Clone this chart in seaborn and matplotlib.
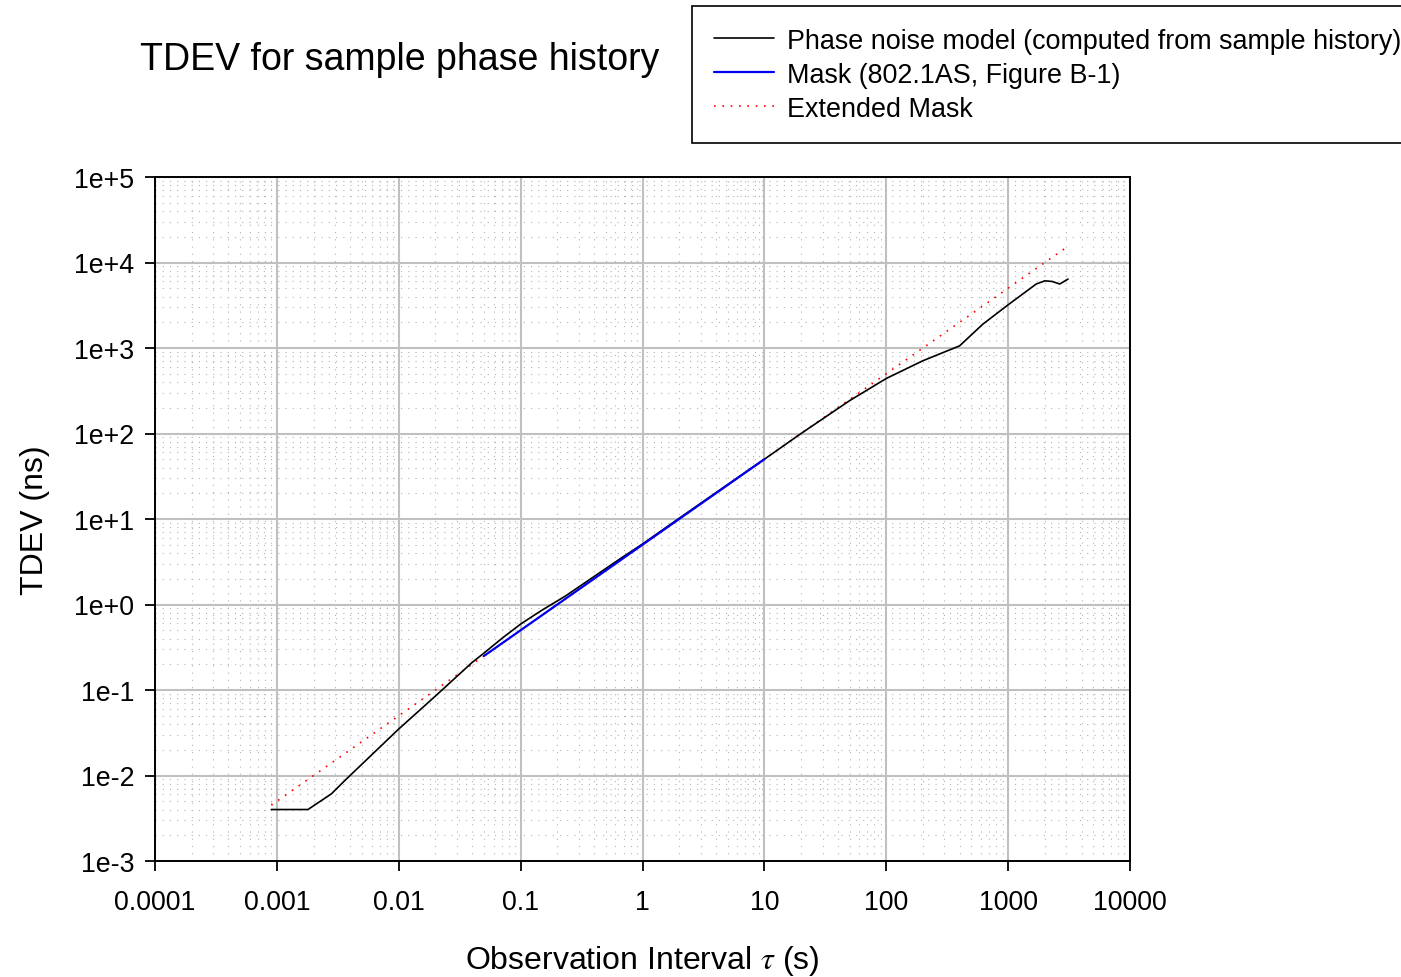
import numpy as np
import pandas as pd
import seaborn as sns
import matplotlib.pyplot as plt
from matplotlib.ticker import LogLocator, NullFormatter

# phase noise model (computed from sample history)
model_tau = [0.0009, 0.0018, 0.0028, 0.0036, 0.01, 0.02, 0.04, 0.05, 0.07, 0.1,
             0.12, 0.15, 0.234, 0.65, 1, 2, 5, 10, 20, 50, 100, 200, 400, 620, 1000,
             1700, 2000, 2300, 2650, 3100]
model_tdev = [0.004, 0.004, 0.0061, 0.0087, 0.035, 0.085, 0.21, 0.27, 0.40, 0.59,
              0.70, 0.86, 1.26, 3.4, 5.1, 10.2, 25.3, 50, 100, 242, 440, 710, 1060, 1900, 3200,
              5600, 6100, 6000, 5600, 6400]

# mask (802.1AS, Figure B-1)
mask_tau = [0.05, 10]
mask_tdev = [0.25, 50]

# extended mask
ext_tau = [0.0009, 3000]
ext_tdev = [0.0045, 15000]

labels = ["Phase noise model (computed from sample history)",
          "Mask (802.1AS, Figure B-1)",
          "Extended Mask"]
x_ticks = [1e-4, 1e-3, 1e-2, 1e-1, 1, 10, 100, 1000, 1e4]
x_ticklabels = ["0.0001", "0.001", "0.01", "0.1", "1", "10", "100", "1000", "10000"]
y_ticks = [1e-3, 1e-2, 1e-1, 1, 10, 100, 1000, 1e4, 1e5]
y_ticklabels = ["1e-3", "1e-2", "1e-1", "1e+0", "1e+1", "1e+2", "1e+3", "1e+4", "1e+5"]

sns.set_style("ticks")
plt.rcParams['font.family'] = ['Liberation Sans', 'DejaVu Sans']
plt.rcParams['mathtext.fontset'] = 'stix'
plt.rcParams['text.color'] = 'black'
plt.rcParams['axes.labelcolor'] = 'black'

fig = plt.figure(figsize=(14.01, 9.78), dpi=100)
ax = fig.add_axes([155 / 1401, 1 - 862 / 978, 975 / 1401, 684 / 978])

ax.set_xscale('log')
ax.set_yscale('log')

sns.lineplot(x=ext_tau, y=ext_tdev, ax=ax, color='#ff0000', lw=1.2,
             linestyle=(0, (1, 4)), label=labels[2], zorder=3)
sns.lineplot(x=model_tau, y=model_tdev, ax=ax, color='black', lw=1.2,
             label=labels[0], zorder=4)
sns.lineplot(x=mask_tau, y=mask_tdev, ax=ax, color='#0000ee', lw=1.6,
             label=labels[1], zorder=5)

ax.set_xlim(1e-4, 1e4)
ax.set_ylim(1e-3, 1e5)

ax.set_xticks(x_ticks)
ax.set_xticklabels(x_ticklabels)
ax.set_yticks(y_ticks)
ax.set_yticklabels(y_ticklabels)
ax.xaxis.set_minor_locator(LogLocator(base=10, subs=np.arange(2, 10), numticks=100))
ax.yaxis.set_minor_locator(LogLocator(base=10, subs=np.arange(2, 10), numticks=100))
ax.xaxis.set_minor_formatter(NullFormatter())
ax.yaxis.set_minor_formatter(NullFormatter())

ax.grid(which='major', color='#c0c0c0', lw=1.5, zorder=0)
ax.grid(which='minor', color='#b4b4b4', lw=0.8, linestyle=(0, (1, 5.5)), zorder=0)
ax.set_axisbelow(True)

ax.tick_params(which='major', direction='out', length=7, width=1.3,
               labelsize=19.3, colors='black')
ax.tick_params(axis='x', which='major', pad=13)
ax.tick_params(axis='y', which='major', pad=8)
ax.tick_params(which='minor', length=0)
for s in ax.spines.values():
    s.set_color('black')
    s.set_linewidth(1.4)

ax.set_xlabel(r"Observation Interval $\tau$ (s)", fontsize=23, labelpad=20)
ax.set_ylabel("TDEV (ns)", fontsize=23, labelpad=17)

fig.text(400 / 1401, 1 - 60 / 978, "TDEV for sample phase history",
         fontsize=27, ha='center', va='center')

ax.get_legend().remove()
h, l = ax.get_legend_handles_labels()
order = [l.index(t) for t in labels]
leg = fig.legend([h[i] for i in order], [l[i] for i in order],
                 loc='upper left', bbox_to_anchor=(692 / 1401, 1 - 7 / 978),
                 fontsize=19.4, frameon=True, fancybox=False, shadow=False,
                 framealpha=1, edgecolor='black', handlelength=2.23,
                 handletextpad=0.5, labelspacing=0.3, borderpad=0.8,
                 borderaxespad=0)
leg.get_frame().set_linewidth(1.2)

fig.savefig("out.png", dpi=100)
